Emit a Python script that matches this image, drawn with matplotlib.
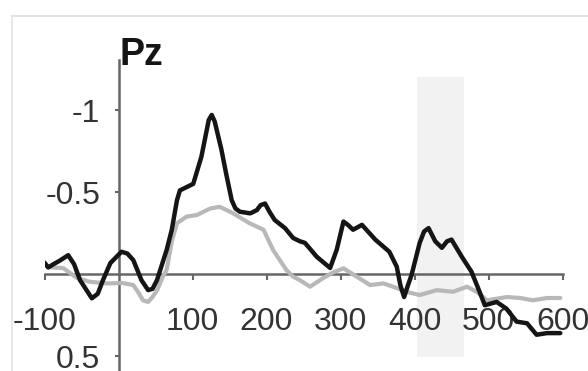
import matplotlib
matplotlib.use('Agg')
import matplotlib.pyplot as plt
from matplotlib.lines import Line2D
from matplotlib import font_manager

# ERP at Pz, negative plotted up
black_t = [-100, -95, -88, -80, -68, -60, -52, -36, -28, -21, -11, 4, 12, 20, 31, 40, 46,
           52, 65, 72, 79, 83, 92, 101, 112, 118, 122, 126, 130, 139, 146, 153, 158, 164,
           178, 187, 192, 198, 204, 211, 225, 236, 245, 252, 268, 286, 295, 304, 310,
           317, 329, 347, 366, 376, 381, 386, 391, 396, 407, 413, 419, 428, 437, 444, 450,
           464, 477, 489, 495, 511, 524, 538, 552, 565, 579, 597]
black_v = [-0.07, -0.04, -0.06, -0.08, -0.115, -0.06, 0.037, 0.148, 0.12, 0.037, -0.067,
           -0.136, -0.125, -0.085, 0.037, 0.098, 0.09, 0.037, -0.146, -0.27, -0.45, -0.51,
           -0.53, -0.55, -0.715, -0.85, -0.94, -0.97, -0.93, -0.76, -0.6, -0.45, -0.4,
           -0.38, -0.37, -0.39, -0.42, -0.43, -0.38, -0.33, -0.28, -0.22, -0.2, -0.19,
           -0.105, -0.037, -0.15, -0.32, -0.3, -0.27, -0.3, -0.21, -0.136, -0.045, 0.07,
           0.14, 0.07, 0.006, -0.19, -0.26, -0.28, -0.2, -0.16, -0.2, -0.21, -0.105,
           -0.014, 0.12, 0.19, 0.17, 0.21, 0.29, 0.30, 0.37, 0.36, 0.36]

gray_t = [-100, -90, -75, -56, -39, -16, 6, 20, 28, 33, 40, 46, 52, 60, 65, 72, 79, 92,
          106, 124, 137, 155, 177, 196, 209, 218, 227, 236, 245, 259, 276, 290, 304, 322,
          340, 358, 371, 389, 407, 430, 452, 471, 484, 498, 525, 543, 560, 579, 597]
gray_v = [-0.055, -0.04, -0.037, 0.024, 0.047, 0.057, 0.055, 0.067, 0.12, 0.16, 0.17,
          0.14, 0.1, 0.016, -0.024, -0.2, -0.31, -0.35, -0.36, -0.40, -0.41, -0.37,
          -0.31, -0.27, -0.146, -0.085, -0.024, 0.016, 0.037, 0.077, 0.026, -0.01,
          -0.035, 0.016, 0.067, 0.057, 0.077, 0.108, 0.128, 0.098, 0.108, 0.077, 0.108,
          0.16, 0.14, 0.146, 0.16, 0.146, 0.146]

window = (403, 467)
window_v = (-1.2, 0.506)
xticks = [-100, 100, 200, 300, 400, 500, 600]
xlabels = ['-100', '100', '200', '300', '400', '500', '600']
yticks = [-1, -0.5, 0.5]
ylabels = ['-1', '-0.5', '0.5']

names = {f.name for f in font_manager.fontManager.ttflist}
fam = ['Liberation Sans Narrow'] if 'Liberation Sans Narrow' in names else ['Liberation Sans']
plt.rcParams['font.family'] = fam + ['DejaVu Sans']

W, H = 588, 371
fig = plt.figure(figsize=(W / 100, H / 100), dpi=100)
ax = fig.add_axes([44.5 / W, 0, 518 / W, (H - 60) / H])
ax.set_xlim(-100, 600)
ax.set_ylim(0.591, -1.305)
ax.patch.set_alpha(0)

ax.fill_between(window, window_v[0], window_v[1], color='#f2f2f2', lw=0, zorder=0)
ax.plot(gray_t, gray_v, color='#b8b8b8', lw=3.0, solid_joinstyle='round',
        solid_capstyle='round', zorder=2)
ax.plot(black_t, black_v, color='#151515', lw=3.2, solid_joinstyle='round',
        solid_capstyle='round', zorder=3)

for s in ['top', 'right']:
    ax.spines[s].set_visible(False)
ax.spines['left'].set_position(('data', 0))
ax.spines['bottom'].set_position(('data', 0))
for s in ['left', 'bottom']:
    ax.spines[s].set_color('#666666')
    ax.spines[s].set_linewidth(1.8)
    ax.spines[s].set_zorder(1)

ax.set_xticks(xticks)
ax.set_xticklabels(xlabels)
ax.set_yticks(yticks)
ax.set_yticklabels(ylabels)
ax.tick_params(axis='x', direction='out', length=4, width=1.5, color='#666666',
               pad=20, labelsize=23, labelcolor='#333333')
ax.tick_params(axis='y', direction='out', length=3, width=1.5, color='#666666',
               pad=10, labelsize=23, labelcolor='#333333')

fig.text(119 / W, 1 - 65 / H, 'Pz', fontsize=27, fontweight='bold',
         color='#151515', ha='left', va='baseline')

# screenshot frame
fig.add_artist(Line2D([12 / W, 1], [1 - 16 / H, 1 - 16 / H], color='#dddddd', lw=1.2))
fig.add_artist(Line2D([12 / W, 12 / W], [0, 1 - 16 / H], color='#e4e4e4', lw=1.2))

fig.savefig('out.png', dpi=100)
